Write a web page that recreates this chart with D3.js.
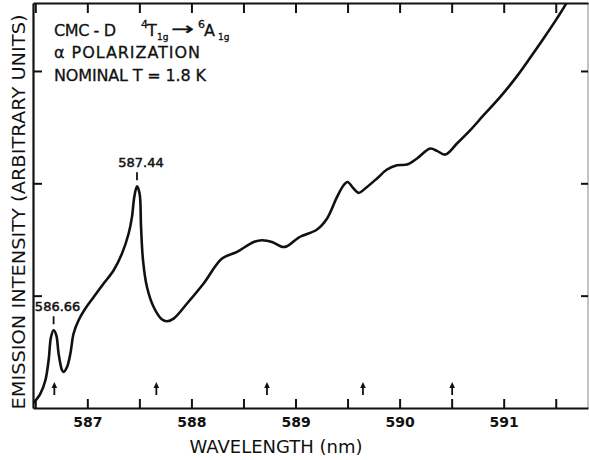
<!DOCTYPE html>
<html>
<head>
<meta charset="utf-8">
<script src="https://cdn.jsdelivr.net/npm/d3@7"></script>
<style>
  body { margin: 0; background: #fff; }
  svg text { font-family: "DejaVu Sans", sans-serif; fill: #111; }
</style>
</head>
<body>
<div id="chart"></div>
<script>
// Colours / constants
const INK = "#111";
const W = 589, H = 460;
const margin = { left: 33, right: 1, top: 3, bottom: 52 };
const plot_width = W - margin.left - margin.right;
const plot_height = H - margin.top - margin.bottom;

// spectrum (wavelength in nm, intensity arb. units)
const wavelength = [586.484, 586.549, 586.597, 586.628, 586.651, 586.676, 586.702, 586.724, 586.757, 586.772,
    586.805, 586.837, 586.868, 586.916, 586.981, 587.061, 587.157, 587.253, 587.333, 587.397,
    587.429, 587.451, 587.477, 587.502, 587.516, 587.535, 587.573, 587.637, 587.718, 587.766,
    587.829, 587.958, 588.117, 588.294, 588.438, 588.598, 588.678, 588.774, 588.870, 588.918,
    589.030, 589.078, 589.207, 589.303, 589.399, 589.462, 589.500, 589.558, 589.606, 589.687,
    589.783, 589.879, 589.975, 590.071, 590.167, 590.295, 590.359, 590.439, 590.551, 590.679,
    590.807, 590.967, 591.128, 591.256, 591.383, 591.512, 591.601, 591.680];
const intensity = [0.045, 0.128, 0.247, 0.425, 0.632, 0.692, 0.647, 0.484, 0.336, 0.321,
    0.365, 0.484, 0.663, 0.781, 0.885, 0.988, 1.108, 1.226, 1.375, 1.553,
    1.701, 1.879, 1.974, 1.909, 1.612, 1.315, 1.077, 0.899, 0.787, 0.772,
    0.796, 0.930, 1.108, 1.330, 1.389, 1.478, 1.493, 1.478, 1.434, 1.440,
    1.517, 1.538, 1.589, 1.687, 1.879, 1.983, 2.012, 1.954, 1.915, 1.968,
    2.043, 2.123, 2.161, 2.167, 2.221, 2.310, 2.289, 2.256, 2.354, 2.473,
    2.606, 2.769, 2.954, 3.120, 3.289, 3.468, 3.601, 3.750];

const xTicks = [586.5, 587, 587.5, 588, 588.5, 589, 589.5, 590, 590.5, 591, 591.5];
const xLabels = [587, 588, 589, 590, 591];
const yTicks = [1, 2, 3];
const arrowPos = [586.683, 587.663, 588.726, 589.648, 590.505];
const peakLabels = ["586.66", "587.44"];
const peakPos = [586.676, 587.477];
const peakVal = [0.692, 1.974];

var root = d3.select("#chart")
    .append("svg")
    .attr("width", W)
    .attr("height", H);

var svg = root.append("g")
    .attr("transform", `translate(${margin.left}, ${margin.top})`);

var xScale = d3.scaleLinear()
    .domain([586.478, 591.81])
    .range([0, plot_width]);
var yScale = d3.scaleLinear()
    .domain([0, 3.605])
    .range([plot_height, 0]);

svg.append("clipPath").attr("id", "clip")
    .append("rect")
    .attr("width", plot_width).attr("height", plot_height);

// frame: right border thin and grey
svg.append("line")
    .attr("x1", plot_width).attr("x2", plot_width)
    .attr("y1", 0).attr("y2", plot_height)
    .attr("stroke", "#888").attr("stroke-width", 1);

function styleAxis(g, w) {
    g.select(".domain").attr("stroke", INK).attr("stroke-width", w);
    g.selectAll(".tick line").attr("stroke", INK).attr("stroke-width", 2);
}

svg.append("g")
    .attr("transform", `translate(0,${plot_height})`)
    .call(d3.axisBottom(xScale).tickValues(xTicks).tickSize(-9).tickSizeOuter(0).tickPadding(9)
        .tickFormat(d => xLabels.includes(d) ? d3.format("d")(d) : ""))
    .call(g => styleAxis(g, 2.2))
    .call(g => g.selectAll(".tick text")
        .style("font-size", "14px").style("font-weight", "bold").attr("fill", INK));

svg.append("g")
    .call(d3.axisTop(xScale).tickValues(xTicks).tickSize(-10).tickSizeOuter(0).tickFormat(""))
    .call(g => styleAxis(g, 2.2));

svg.append("g")
    .call(d3.axisLeft(yScale).tickValues(yTicks).tickSize(-9).tickSizeOuter(0).tickFormat(""))
    .call(g => styleAxis(g, 2.2));

svg.append("g")
    .attr("transform", `translate(${plot_width},0)`)
    .call(d3.axisRight(yScale).tickValues(yTicks).tickSize(-7).tickSizeOuter(0).tickFormat(""))
    .call(g => g.select(".domain").remove())
    .call(g => g.selectAll(".tick line").attr("stroke", INK).attr("stroke-width", 2));

// the spectrum
var pts = wavelength.map((w, i) => [w, intensity[i]]);
var line = d3.line()
    .x(d => xScale(d[0]))
    .y(d => yScale(d[1]))
    .curve(d3.curveCatmullRom.alpha(0.5));

svg.append("path")
    .datum(pts)
    .attr("clip-path", "url(#clip)")
    .attr("d", line)
    .attr("fill", "none")
    .attr("stroke", INK)
    .attr("stroke-width", 2.6)
    .attr("stroke-linejoin", "round");

// small upward arrows
var arrows = svg.selectAll(".arrow")
    .data(arrowPos)
    .enter()
    .append("g")
    .attr("class", "arrow")
    .attr("transform", d => `translate(${xScale(d)},${plot_height - 26})`);
arrows.append("line")
    .attr("x1", 0).attr("x2", 0).attr("y1", 3).attr("y2", 13)
    .attr("stroke", INK).attr("stroke-width", 1.8);
arrows.append("path")
    .attr("d", "M0,0 L-2.8,6 L2.8,6 Z")
    .attr("fill", INK);

// peak labels
peakLabels.forEach((t, i) => {
    var px = xScale(peakPos[i]), py = yScale(peakVal[i]);
    svg.append("line")
        .attr("x1", px).attr("x2", px)
        .attr("y1", py - 6).attr("y2", py - 14)
        .attr("stroke", INK).attr("stroke-width", 1.8);
    svg.append("text")
        .attr("x", px + 4).attr("y", py - 19)
        .attr("text-anchor", "middle")
        .style("font-size", "13px")
        .attr("stroke", INK).attr("stroke-width", 0.5)
        .text(t);
});

// annotation block (page coordinates)
var note = root.append("g").attr("stroke", INK).attr("stroke-width", 0.3);
note.append("text").attr("x", 54).attr("y", 36).style("font-size", "16px")
    .attr("textLength", 62).text("CMC - D");
note.append("text").attr("x", 141).attr("y", 28).style("font-size", "11px").text("4");
note.append("text").attr("x", 147).attr("y", 36).style("font-size", "16px").text("T");
note.append("text").attr("x", 157).attr("y", 40).style("font-size", "9px").text("1g");
note.append("text").attr("x", 171).attr("y", 35).style("font-size", "18px")
    .attr("textLength", 23).attr("lengthAdjust", "spacingAndGlyphs").text("→");
note.append("text").attr("x", 198).attr("y", 28).style("font-size", "11px").text("6");
note.append("text").attr("x", 204).attr("y", 36).style("font-size", "16px").text("A");
note.append("text").attr("x", 218).attr("y", 40).style("font-size", "9px").text("1g");
note.append("text").attr("x", 54).attr("y", 57.5).style("font-size", "16px")
    .attr("textLength", 146).text("α POLARIZATION");
note.append("text").attr("x", 54).attr("y", 80.5).style("font-size", "16px")
    .attr("textLength", 152).text("NOMINAL T = 1.8 K");

// axis titles
root.append("text")
    .attr("transform", "translate(25,212) rotate(-90)")
    .attr("text-anchor", "middle")
    .style("font-size", "17px")
    .attr("textLength", 395)
    .attr("lengthAdjust", "spacingAndGlyphs")
    .text("EMISSION INTENSITY (ARBITRARY UNITS)");

root.append("text")
    .attr("x", 276).attr("y", 453)
    .attr("text-anchor", "middle")
    .style("font-size", "18px")
    .attr("textLength", 173)
    .attr("lengthAdjust", "spacingAndGlyphs")
    .text("WAVELENGTH (nm)");
</script>
</body>
</html>
